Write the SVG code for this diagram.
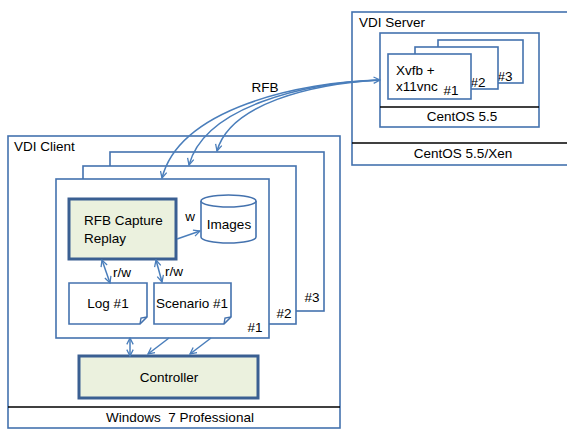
<svg xmlns="http://www.w3.org/2000/svg" width="567" height="430" viewBox="0 0 567 430">
  <defs>
    <style>
      text { font-family: "Liberation Sans", Arial, sans-serif; font-size: 13.5px; fill: #000; }
      .mid { text-anchor: middle; }
      .box { fill: #fff; stroke: #4472AE; stroke-width: 1.6; }
      .hot { fill: #EBF1DE; stroke: #3A5F92; stroke-width: 3; }
      .sep { stroke: #000; stroke-width: 1.4; }
      .link { fill: none; stroke: #4A7EBB; stroke-width: 1.5; }
    </style>
    <marker id="arrow" viewBox="0 0 10 10" refX="9" refY="5" markerWidth="8" markerHeight="8" markerUnits="userSpaceOnUse" orient="auto-start-reverse">
      <path d="M1,1 L9,5 L1,9" fill="none" stroke="#4A7EBB" stroke-width="1.6" stroke-linejoin="miter"/>
    </marker>
  </defs>

  <!-- VDI server host -->
  <g id="vdi-server">
    <rect class="box" x="352" y="12" width="224" height="153"/>
    <line class="sep" x1="352" y1="143" x2="576" y2="143"/>
    <text x="359" y="27">VDI Server</text>
    <text class="mid" x="463" y="158">CentOS 5.5/Xen</text>
  </g>

  <g id="centos-vm">
    <rect class="box" x="380" y="33" width="159" height="94"/>
    <line class="sep" x1="380" y1="107" x2="539" y2="107"/>
    <text class="mid" x="462" y="121">CentOS 5.5</text>
  </g>

  <g id="xvfb-3">
    <rect class="box" x="438" y="40" width="85" height="43"/>
    <text class="mid" x="505" y="81">#3</text>
  </g>
  <g id="xvfb-2">
    <rect class="box" x="415" y="47" width="83" height="42"/>
    <text class="mid" x="478" y="87">#2</text>
  </g>
  <g id="xvfb-1">
    <rect class="box" x="388" y="54" width="83" height="45"/>
    <text x="396" y="75">Xvfb +</text>
    <text x="396" y="91">x11vnc</text>
    <text class="mid" x="451" y="95">#1</text>
  </g>

  <!-- VDI client host -->
  <g id="vdi-client">
    <rect class="box" x="8" y="136" width="332" height="292"/>
    <line class="sep" x1="8" y1="407" x2="340" y2="407"/>
    <text x="14" y="151">VDI Client</text>
    <text class="mid" x="180" y="422" xml:space="preserve">Windows  7 Professional</text>
  </g>

  <g id="client-3">
    <rect class="box" x="110" y="152" width="214" height="159"/>
    <text class="mid" x="312" y="302">#3</text>
  </g>
  <g id="client-2">
    <rect class="box" x="83" y="166" width="213" height="158"/>
    <text class="mid" x="284" y="318">#2</text>
  </g>
  <g id="client-1">
    <rect class="box" x="56" y="179" width="213" height="159"/>
    <text class="mid" x="255" y="332">#1</text>
  </g>

  <g id="rfb-capture-replay">
    <rect class="hot" x="69" y="199" width="107" height="60"/>
    <text x="84" y="225">RFB Capture</text>
    <text x="84" y="243">Replay</text>
  </g>

  <g id="images">
    <path class="box" d="M201,201 L201,237 A27.5,6 0 0 0 256,237 L256,201 A27.5,6 0 0 0 201,201 Z"/>
    <path class="box" d="M201,201 A27.5,6 0 0 0 256,201" fill="none"/>
    <text class="mid" x="229" y="229">Images</text>
  </g>

  <g id="log">
    <path class="box" d="M69,283 L147,283 L147,317 L140,324 L69,324 Z"/>
    <path d="M147,317 L141,318 L140,324" fill="none" stroke="#4472AE" stroke-width="1.4"/>
    <text class="mid" x="108" y="308">Log #1</text>
  </g>

  <g id="scenario">
    <path class="box" d="M154,283 L231,283 L231,317 L224,324 L154,324 Z"/>
    <path d="M231,317 L225,318 L224,324" fill="none" stroke="#4472AE" stroke-width="1.4"/>
    <text class="mid" x="192" y="308">Scenario #1</text>
  </g>

  <g id="controller">
    <rect class="hot" x="79" y="356" width="179" height="42"/>
    <text class="mid" x="169" y="382">Controller</text>
  </g>

  <!-- connectors -->
  <g id="connectors">
    <path class="link" d="M380,80 C300,82 180,108 162,178" marker-start="url(#arrow)" marker-end="url(#arrow)"/>
    <path class="link" d="M380,80 C305,83 205,106 189,165" marker-end="url(#arrow)"/>
    <path class="link" d="M380,80 C310,84 230,104 217,151" marker-end="url(#arrow)"/>
    <text class="mid" x="265" y="92">RFB</text>

    <path class="link" d="M177,239 L200,231" marker-end="url(#arrow)"/>
    <text class="mid" x="190" y="221">w</text>

    <path class="link" d="M102,260 L110,283" marker-start="url(#arrow)" marker-end="url(#arrow)"/>
    <text x="113" y="277">r/w</text>
    <path class="link" d="M156,260 L162,282" marker-start="url(#arrow)" marker-end="url(#arrow)"/>
    <text x="165" y="276">r/w</text>

    <path class="link" d="M130,338 L130,356" marker-start="url(#arrow)" marker-end="url(#arrow)"/>
    <path class="link" d="M169,338 L148,354" marker-end="url(#arrow)"/>
    <path class="link" d="M211,338 L190,354" marker-end="url(#arrow)"/>
  </g>
</svg>
